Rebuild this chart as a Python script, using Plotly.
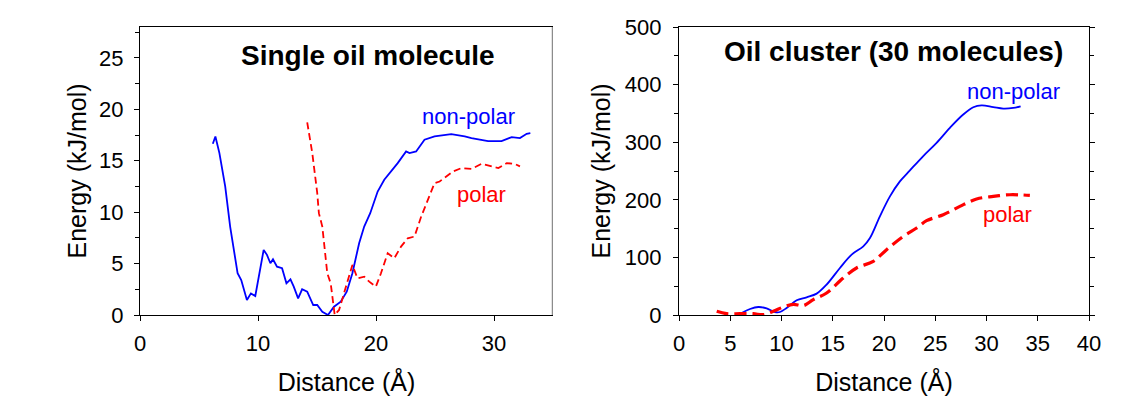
import plotly.graph_objects as go

# ---- Left panel: single oil molecule ----
single_np_x = [6.17, 6.39, 6.73, 7.22, 7.64, 8.27, 8.58, 9.06, 9.4, 9.77, 10.48, 10.76, 11.05, 11.27, 11.61,
               12.04, 12.41, 12.75, 13.03, 13.4, 13.74, 14.17, 14.68, 15.02, 15.45, 15.93, 16.44, 17.01,
               17.52, 18.0, 18.57, 19.0, 19.51, 20.14, 20.7, 21.27, 21.84, 22.55, 22.84, 23.4, 24.11,
               24.96, 26.38, 27.52, 28.09, 29.5, 30.64, 31.5, 32.2, 32.77, 33.08]
single_np_y = [16.65, 17.36, 15.74, 12.5, 8.6, 4.06, 3.4, 1.46, 2.1, 1.85, 6.33, 5.85, 5.03, 5.42, 4.7,
               4.55, 3.08, 3.47, 2.76, 1.62, 2.5, 2.27, 0.97, 0.97, 0.32, 0.0, 0.81, 1.3,
               2.27, 4.06, 6.98, 8.6, 9.9, 12.0, 13.15, 13.96, 14.77, 15.9, 15.74, 15.9, 17.04,
               17.36, 17.59, 17.36, 17.2, 16.9, 16.9, 17.3, 17.2, 17.62, 17.68]

single_p_x = [14.17, 14.6, 15.02, 15.16, 15.45, 15.87, 16.16, 16.5, 16.87, 17.3, 17.72, 18.0, 18.43, 19.0,
              19.43, 19.99, 20.42, 20.99, 21.55, 22.12, 22.69, 23.26, 23.83, 24.4, 24.96, 25.39, 25.96,
              26.53, 27.24, 28.09, 28.94, 29.8, 30.37, 31.08, 31.8, 32.2]
single_p_y = [18.73, 15.74, 11.85, 9.9, 8.6, 4.06, 3.08, 0.0, 0.49, 2.1, 3.73, 4.87, 3.57, 3.73,
              3.24, 2.76, 4.06, 6.0, 5.52, 6.65, 7.46, 7.63, 9.57, 11.19, 12.82, 12.98, 13.47,
              13.96, 14.28, 14.2, 14.7, 14.45, 14.28, 14.77, 14.67, 14.45]

# ---- Right panel: oil cluster (30 molecules) ----
cluster_np_x = [6.11, 6.93, 7.74, 8.55, 9.36, 9.85, 10.5, 11.48, 12.45, 13.43, 14.4, 15.7, 16.84, 17.98,
                18.63, 19.6, 20.58, 21.55, 22.53, 23.83, 25.13, 26.43, 27.73, 28.71, 29.52, 30.66,
                31.63, 32.61, 33.33]
cluster_np_y = [3.5, 10.4, 13.9, 11.6, 5.2, 5.2, 12.2, 25.5, 30.7, 37.1, 52.7, 81.6, 104.8, 119.3,
                133.7, 171.3, 206, 232, 251, 276, 299, 325, 348, 360.6, 364, 361, 358.4, 359.5, 362.4]

cluster_p_x = [3.68, 4.65, 5.95, 7.25, 8.22, 9.2, 10.18, 11.15, 12.13, 13.1, 14.4, 16.02, 17.32, 18.95,
               20.25, 21.88, 23.18, 24.15, 25.78, 27.4, 29.03, 30.66, 32.28, 34.23]
cluster_p_y = [6.4, 2.3, 2.3, 2.3, 0.6, 6.4, 13.9, 18.5, 16.2, 26.6, 38.2, 64.2, 81.6, 93.1,
               113.4, 136.5, 151, 163.7, 174.1, 188.6, 201.3, 205.9, 208.8, 207.7]

left_xticks = [0, 10, 20, 30]
left_yticks = [0, 5, 10, 15, 20, 25]
right_xticks = [0, 5, 10, 15, 20, 25, 30, 35, 40]
right_yticks = [0, 100, 200, 300, 400, 500]

BLUE = "#0000FF"
RED = "#FF0000"
FONT = "Liberation Sans, Arial, sans-serif"

fig = go.Figure()
fig.add_trace(go.Scatter(x=single_np_x, y=single_np_y, mode="lines",
                         line=dict(color=BLUE, width=1.8), xaxis="x", yaxis="y"))
fig.add_trace(go.Scatter(x=single_p_x, y=single_p_y, mode="lines",
                         line=dict(color=RED, width=1.8, dash="7px,4px"), xaxis="x", yaxis="y"))
fig.add_trace(go.Scatter(x=cluster_np_x, y=cluster_np_y, mode="lines", line_shape="spline",
                         line=dict(color=BLUE, width=1.8), xaxis="x2", yaxis="y2"))
fig.add_trace(go.Scatter(x=cluster_p_x, y=cluster_p_y, mode="lines", line_shape="spline",
                         line=dict(color=RED, width=3.2, dash="12px,6px"), xaxis="x2", yaxis="y2"))

W, H = 1142, 404
OFF = 8  # page body offset
def dx(a, b):
    return [(a - OFF) / W, (b - OFF) / W]
ydom = [1 - (315 - OFF) / H, 1 - (27 - OFF) / H]

tickfont = dict(family=FONT, size=22, color="black")
titlefont = dict(family=FONT, size=25, color="black")

common_axis = dict(showgrid=False, zeroline=False, showline=True, linecolor="black", linewidth=1.2,
                   ticks="outside", ticklen=5, tickcolor="black", tickfont=tickfont, automargin=False)

fig.update_layout(
    width=W, height=H,
    margin=dict(l=0, r=0, t=0, b=0),
    paper_bgcolor="white", plot_bgcolor="white",
    showlegend=False,
    font=dict(family=FONT),
    xaxis=dict(domain=dx(140, 553), range=[0, 35], tickvals=left_xticks, mirror=True,
               title=dict(text="Distance (Å)", font=titlefont, standoff=18),
               ticklabelstandoff=3, anchor="y", **common_axis),
    yaxis=dict(domain=ydom, range=[0, 28], tickvals=left_yticks,
               minor=dict(tickvals=[2.5, 7.5, 12.5, 17.5, 22.5, 27.5], ticks="outside", ticklen=4,
                          tickcolor="black"),
               title=dict(text="Energy (kJ/mol)", font=titlefont, standoff=5),
               ticklabelstandoff=6, anchor="x", **common_axis),
    xaxis2=dict(domain=dx(679, 1089), range=[0, 40], tickvals=right_xticks, mirror=True,
                title=dict(text="Distance (Å)", font=titlefont, standoff=18),
                ticklabelstandoff=3, anchor="y2", **common_axis),
    yaxis2=dict(domain=ydom, range=[0, 500], tickvals=right_yticks, mirror="ticks",
                minor=dict(tickvals=[50, 150, 250, 350, 450], ticks="outside", ticklen=4,
                           tickcolor="black"),
                title=dict(text="Energy (kJ/mol)", font=titlefont, standoff=7),
                ticklabelstandoff=7, anchor="x2", **common_axis),
)

# gray right border of the left panel
fig.add_shape(type="line", xref="x", yref="y", x0=35, x1=35, y0=0, y1=28,
              line=dict(color="#8c8c8c", width=2.5))

annots = [
    dict(xref="x", yref="y", x=19.3, y=25.2, text="<b>Single oil molecule</b>",
         font=dict(family=FONT, size=28, color="black")),
    dict(xref="x", yref="y", x=27.8, y=19.3, text="non-polar", font=dict(family=FONT, size=22, color=BLUE)),
    dict(xref="x", yref="y", x=28.9, y=11.7, text="polar", font=dict(family=FONT, size=22, color=RED)),
    dict(xref="x2", yref="y2", x=20.9, y=458, text="<b>Oil cluster (30 molecules)</b>",
         font=dict(family=FONT, size=28, color="black")),
    dict(xref="x2", yref="y2", x=32.6, y=388, text="non-polar", font=dict(family=FONT, size=22, color=BLUE)),
    dict(xref="x2", yref="y2", x=32.0, y=174, text="polar", font=dict(family=FONT, size=22, color=RED)),
]
for a in annots:
    fig.add_annotation(showarrow=False, xanchor="center", yanchor="middle", **a)

fig.write_html("out.html")
